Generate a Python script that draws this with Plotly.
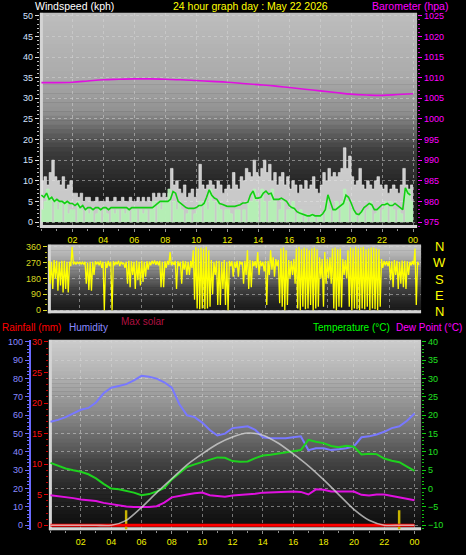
import numpy as np
import plotly.graph_objects as go

W, H = 466, 555

# ---------------- DATA ----------------
# wind, 10-minute samples over 24 h (kph)
wind_gust = [10, 11, 9, 12, 15, 11,
             10, 9, 11, 8, 9, 10,
             7, 7, 6, 7, 5, 6,
             6, 5, 5, 6, 5, 5,
             5, 6, 5, 5, 6, 5,
             5, 6, 5, 5, 6, 5,
             5, 6, 5, 6, 5, 6,
             5, 7, 6, 7, 6, 7,
             6, 7, 13, 9, 10, 8,
             7, 9, 6, 7, 8, 6,
             8, 14, 9, 8, 9, 10,
             9, 8, 10, 9, 7, 8,
             9, 8, 12, 9, 8, 11,
             10, 13, 12, 11, 15, 12,
             11, 13, 15, 12, 14, 10,
             12, 9, 11, 12, 9, 11,
             8, 10, 9, 7, 9, 8,
             10, 8, 9, 11, 8, 7,
             9, 12, 10, 13, 11, 12,
             11, 12, 13, 18, 13, 16,
             11, 9, 10, 13, 9, 8,
             10, 9, 8, 10, 11, 9,
             8, 9, 7, 8, 9, 8,
             7, 9, 13, 9, 7, 9]
wind_speed = [3, 5, 8, 6, 0, 5,
              3, 5, 0, 5, 2, 3,
              3, 0, 5, 3, 0, 3,
              2, 3, 0, 2, 3, 0,
              3, 2, 0, 3, 2, 3,
              0, 3, 2, 3, 0, 3,
              3, 0, 3, 2, 3, 0,
              3, 5, 0, 5, 3, 5,
              5, 8, 0, 5, 3, 5,
              3, 0, 2, 3, 0, 2,
              3, 5, 0, 5, 3, 8,
              5, 0, 5, 3, 0, 3,
              3, 2, 0, 3, 3, 0,
              3, 0, 5, 5, 8, 5,
              0, 8, 5, 0, 5, 8,
              5, 0, 3, 5, 0, 3,
              3, 5, 0, 2, 3, 0,
              2, 0, 2, 1.5, 0, 1.5,
              2, 0, 5, 3, 0, 3,
              5, 0, 5, 8, 5, 0,
              3, 2, 0, 2, 3, 0,
              3, 5, 0, 2, 3, 0,
              3, 5, 0, 5, 3, 0,
              3, 2, 0, 8, 8, 5]
wind_avg = [6.5, 6, 7, 5.5, 6, 5,
            5.5, 5, 5, 4.5, 5, 4.5,
            4.5, 4, 4.5, 3.5, 4, 3,
            3.5, 3.5, 3, 3.5, 3.5, 3,
            3.5, 3.5, 3, 3.5, 3.5, 3.5,
            3.5, 3.5, 3.5, 3.5, 3, 3.5,
            3.5, 3.5, 3.5, 3.5, 3.5, 3.5,
            3.5, 3.5, 4, 4.5, 5, 5,
            5, 5, 5.5, 7.4, 7, 5,
            4.5, 4, 3.5, 3.3, 3.3, 3.3,
            3.5, 4, 4, 4.5, 6, 7.8,
            6.5, 5.8, 5.5, 4.5, 4.3, 4,
            3.8, 3.8, 3.8, 3.8, 4, 4.2,
            4.6, 4.6, 4.8, 6.6, 7.5, 5.8,
            5.8, 6, 7, 7.5, 6.8, 7,
            5.5, 5.5, 5.5, 5.8, 5.5, 5,
            4, 3.5, 3.3, 2.5, 2.2, 2,
            1.8, 1.5, 1.5, 1.8, 1.5, 1.5,
            1.5, 2, 3, 6.6, 5, 3,
            3, 3.5, 4, 4.5, 6.5, 6,
            4.6, 3, 2, 1.8, 2.5, 3.5,
            4, 4.5, 4.2, 3, 3, 3.5,
            4.2, 4.2, 4.5, 4, 4, 4.5,
            4, 3.5, 3, 8.3, 7, 6.5]

# barometer, hourly (hPa)
baro_hours = list(range(25))
baro_hpa = [1008.8, 1008.8, 1008.9, 1009.2, 1009.5, 1009.6, 1009.7, 1009.7, 1009.6,
            1009.5, 1009.3, 1009.1, 1008.9, 1008.6, 1008.3, 1008.0, 1007.6, 1007.2,
            1006.8, 1006.4, 1006.0, 1005.8, 1005.7, 1005.9, 1006.1]

# wind direction, per 10 minutes: max and min seen (degrees)
dir_max = [280, 275, 285, 280, 275, 280,
           280, 275, 275, 360, 275, 275,
           275, 272, 275, 270, 275, 275,
           278, 275, 280, 275, 275, 280,
           275, 278, 275, 280, 275, 270,
           275, 280, 278, 275, 280, 275,
           280, 275, 278, 275, 280, 282,
           278, 280, 275, 278, 280, 330,
           275, 280, 278, 275, 280, 278,
           275, 280, 340, 360, 350, 355,
           350, 360, 340, 285, 275, 280,
           280, 275, 285, 275, 280, 278,
           275, 280, 278, 275, 280, 340,
           285, 280, 278, 330, 280, 275,
           280, 280, 340, 300, 290, 285,
           350, 355, 340, 285, 280, 290,
           350, 360, 345, 355, 350, 340,
           350, 355, 345, 300, 290, 330,
           290, 300, 350, 355, 345, 350,
           290, 285, 340, 355, 350, 360,
           350, 355, 360, 345, 350, 355,
           355, 350, 345, 290, 280, 278,
           280, 278, 285, 280, 275, 282,
           280, 278, 275, 280, 350, 275]
dir_min = [150, 120, 180, 110, 140, 100,
           120, 100, 250, 260, 260, 262,
           262, 260, 150, 115, 110, 200,
           260, 255, 240, 0, 240, 250,
           0, 255, 260, 250, 262, 240,
           150, 130, 200, 120, 170, 140,
           160, 190, 230, 255, 262, 258,
           255, 130, 130, 240, 258, 255,
           258, 120, 250, 150, 230, 200,
           200, 240, 60, 10, 5, 10,
           5, 10, 20, 90, 200, 30,
           30, 120, 30, 0, 250, 190,
           240, 190, 260, 150, 200, 120,
           130, 250, 240, 200, 250, 220,
           30, 200, 230, 190, 250, 40,
           20, 0, 30, 180, 200, 150,
           10, 0, 20, 5, 10, 30,
           0, 10, 20, 180, 20, 150,
           180, 150, 10, 0, 20, 15,
           200, 180, 20, 0, 10, 5,
           0, 10, 5, 20, 0, 10,
           5, 0, 20, 240, 255, 250,
           170, 130, 200, 120, 150, 130,
           120, 200, 255, 258, 30, 258]

# half-hourly temperature / humidity
hh_hours = [i * 0.5 for i in range(49)]
humidity = [56.5, 57.5, 59, 61, 63, 64, 67, 72, 75, 76, 77, 79, 81.5, 81, 80, 78, 75,
            66, 60, 59, 56, 52, 49, 50, 53, 53.5, 54, 52, 48, 47.5, 47.5, 47.5, 48,
            48.5, 41, 42, 42, 41, 41.5, 42, 43, 48, 48.5, 49.5, 51, 53, 54, 57, 61]
temperature = [7, 6.2, 5.5, 5, 4.6, 3.9, 2.8, 1.3, 0, -0.2, -0.6, -1.1, -1.8, -1.5,
               -0.8, 0.2, 2.5, 4.2, 5.9, 6.6, 7.3, 7.9, 8.5, 8.4, 7.5, 7.3, 7.4, 8.3,
               9.0, 9.2, 9.6, 9.8, 10.2, 10.5, 13.3, 12.8, 12.4, 11.6, 11.3, 11.7, 11.4,
               9.3, 9.5, 9.4, 8.2, 7.6, 7.2, 6.0, 4.8]
dew_point = [-1.8, -2.0, -2.2, -2.6, -3.0, -3.1, -3.4, -3.9, -4.3, -4.6, -4.9, -5.0,
             -5.1, -5.0, -4.8, -3.8, -2.4, -1.9, -1.6, -1.3, -1.1, -1.8, -2.0, -2.2,
             -1.9, -1.8, -1.6, -1.4, -1.1, -1.0, -0.9, -0.8, -0.8, -0.9, -1.6, -0.2,
             -0.3, -0.8, -0.9, -0.8, -0.8, -1.7, -1.9, -1.6, -1.6, -2.0, -2.4, -2.8, -3.2]

# max solar, hourly (W/m2)
solar_hours = list(range(25))
max_solar = [0, 0, 0, 0, 0, 47, 170, 312, 445, 577, 681, 775, 842, 880, 860, 785,
             681, 567, 435, 293, 151, 47, 0, 0, 0]

rain_hours = [0, 24]
rainfall = [0, 0]
sun_marks = [5.0, 23.0]

hour_ticks = list(range(2, 25, 2))
hour_labels = ["02", "04", "06", "08", "10", "12", "14", "16", "18", "20", "22", "00"]

# ---------------- FIGURE ----------------
FONT = "Liberation Sans, Arial, sans-serif"


def fx(p):
    return p / W


def fy(p):
    return 1 - p / H


fig = go.Figure()

t10 = [i / 6.0 for i in range(len(wind_gust))] + [24.0]


def ext(a):
    return list(a) + [a[-1]]


# --- top panel: wind + barometer
fig.add_trace(go.Scatter(x=t10, y=ext(wind_gust), mode="lines",
                         line=dict(shape="hv", width=0.6, color="rgba(245,245,245,0.9)"),
                         fill="tozeroy", fillcolor="rgba(232,232,232,0.85)",
                         xaxis="x", yaxis="y", hoverinfo="skip"))
fig.add_trace(go.Scatter(x=t10, y=ext(wind_speed), mode="lines",
                         line=dict(shape="hv", width=0.6, color="rgba(190,245,190,1)"),
                         fill="tozeroy", fillcolor="rgba(180,240,180,0.95)",
                         xaxis="x", yaxis="y", hoverinfo="skip"))
fig.add_trace(go.Scatter(x=t10[:-1], y=wind_avg, mode="lines",
                         line=dict(width=1.6, color="#12d012"),
                         xaxis="x", yaxis="y", hoverinfo="skip"))
fig.add_trace(go.Scatter(x=baro_hours, y=baro_hpa, mode="lines",
                         line=dict(width=1.6, color="#e010e0", shape="spline"),
                         xaxis="x", yaxis="y2", hoverinfo="skip"))

# --- wind direction panel (zig-zag between max and min per interval)
dx, dy = [], []
for i in range(len(dir_max)):
    t = i / 6.0
    dx += [t, t + 1 / 12.0]
    dy += [dir_max[i], dir_min[i]]
fig.add_trace(go.Scatter(x=dx, y=dy, mode="lines", line=dict(width=1.3, color="#ffff00"),
                         xaxis="x2", yaxis="y3", hoverinfo="skip"))

# --- bottom panel
fig.add_trace(go.Scatter(x=rain_hours, y=rainfall, mode="lines",
                         line=dict(width=3, color="#ff0000"),
                         xaxis="x3", yaxis="y5", hoverinfo="skip"))
fig.add_trace(go.Bar(x=sun_marks, y=[3.1] * len(sun_marks), base=-0.65, width=0.13,
                     marker=dict(color="#c8b400", line=dict(width=0)),
                     xaxis="x3", yaxis="y5", hoverinfo="skip"))
fig.add_trace(go.Scatter(x=solar_hours, y=max_solar, mode="lines",
                         line=dict(width=1.6, color="rgba(215,215,215,0.75)", shape="spline",
                                   smoothing=0.7),
                         xaxis="x3", yaxis="y7", hoverinfo="skip"))
fig.add_trace(go.Scatter(x=hh_hours, y=humidity, mode="lines",
                         line=dict(width=2, color="#7878ff"),
                         xaxis="x3", yaxis="y4", hoverinfo="skip"))
fig.add_trace(go.Scatter(x=hh_hours, y=temperature, mode="lines",
                         line=dict(width=2, color="#1ed21e"),
                         xaxis="x3", yaxis="y6", hoverinfo="skip"))
fig.add_trace(go.Scatter(x=hh_hours, y=dew_point, mode="lines",
                         line=dict(width=2, color="#e010e0"),
                         xaxis="x3", yaxis="y6", hoverinfo="skip"))

# ---------------- backgrounds (gradient strips) ----------------
shapes = []


def gradient(x0, x1, ytop, ybot, stops_pos, stops_val, n=48):
    edges = np.linspace(ytop, ybot, n + 1)
    for k in range(n):
        mid = (k + 0.5) / n
        g = int(round(np.interp(mid, stops_pos, stops_val)))
        shapes.append(dict(type="rect", xref="paper", yref="paper",
                           x0=fx(x0), x1=fx(x1), y0=fy(edges[k + 1]) - 0.0005,
                           y1=fy(edges[k]) + 0.0005,
                           fillcolor=f"rgb({g},{g},{g})", line=dict(width=0),
                           layer="below"))


gradient(40, 418, 10, 227, [0, 0.07, 0.3, 0.46, 0.55, 0.645, 0.83, 1.0],
         [190, 185, 170, 145, 100, 60, 32, 22])
gradient(48, 422, 244, 313, [0, 0.2, 0.4, 0.65, 0.85, 1.0], [200, 170, 125, 65, 35, 25])
gradient(49, 422, 340, 532, [0, 0.2, 0.42, 0.58, 0.63, 0.78, 0.93, 1.0],
         [205, 175, 130, 88, 70, 40, 20, 14])

# bevel edges
for (x0, x1, yt, yb) in [(40, 418, 10, 227), (48, 422, 244, 313), (49, 422, 340, 532)]:
    shapes.append(dict(type="rect", xref="paper", yref="paper", x0=fx(x0), x1=fx(x0 + 3),
                       y0=fy(yb), y1=fy(yt), fillcolor="#d4d4d4", line=dict(width=0),
                       layer="below"))
    shapes.append(dict(type="rect", xref="paper", yref="paper", x0=fx(x0), x1=fx(x1),
                       y0=fy(yb), y1=fy(yb - 3), fillcolor="#d4d4d4", line=dict(width=0),
                       layer="below"))

GRID = "rgba(215,215,215,0.5)"

xcommon = dict(tickvals=hour_ticks, ticktext=hour_labels, showgrid=True, gridcolor=GRID,
               griddash="dot", gridwidth=1, zeroline=False, showline=False,
               ticks="outside", ticklen=3, tickcolor="#909090",
               tickfont=dict(family=FONT, size=9, color="#f0f000"),
               minor=dict(dtick=1, ticks="outside", ticklen=2, tickcolor="#909090",
                          showgrid=False))

layout = dict(
    width=W, height=H, paper_bgcolor="#000000", plot_bgcolor="rgba(0,0,0,0)",
    margin=dict(l=0, r=0, t=0, b=0), showlegend=False, barmode="overlay",
    font=dict(family=FONT, color="#ffffff"),
    xaxis=dict(domain=[fx(40), fx(418)], range=[-0.097, 24.26], anchor="y", **xcommon),
    yaxis=dict(domain=[fy(227), fy(10)], range=[-1.44, 50.7], dtick=5, tick0=0,
               showgrid=True, gridcolor=GRID, griddash="dot", zeroline=False,
               ticks="outside", ticklen=4, tickcolor="#e0e0e0",
               tickfont=dict(family=FONT, size=9, color="#d4e2ff"),
               minor=dict(dtick=1, ticks="outside", ticklen=2, tickcolor="#c0c0c0"),
               anchor="x"),
    yaxis2=dict(overlaying="y", side="right", anchor="x", range=[973.56, 1025.7],
                dtick=5, tick0=975, showgrid=False, zeroline=False,
                ticks="outside", ticklen=4, tickcolor="#ff00ff",
                tickfont=dict(family=FONT, size=9, color="#ff00ff"),
                minor=dict(dtick=1, ticks="outside", ticklen=2, tickcolor="#c000c0")),
    xaxis2=dict(domain=[fx(48), fx(422)], range=[-0.065, 24.06], anchor="y3",
                tickvals=hour_ticks, showticklabels=False, showgrid=True, gridcolor=GRID,
                griddash="dot", zeroline=False, ticks=""),
    yaxis3=dict(domain=[fy(313), fy(244)], range=[-17, 371], tickvals=[0, 90, 180, 270, 360],
                showgrid=True, gridcolor=GRID, griddash="dot", zeroline=False,
                ticks="outside", ticklen=4, tickcolor="#d8d820",
                tickfont=dict(family=FONT, size=9, color="#d8d820"),
                minor=dict(dtick=30, ticks="outside", ticklen=2, tickcolor="#b0b010"),
                anchor="x2"),
    xaxis3=dict(domain=[fx(49), fx(422)], range=[-0.105, 24.43], anchor="y5", **xcommon),
    yaxis4=dict(domain=[fy(532), fy(340)], range=[-2.7, 101.1], dtick=10, tick0=0,
                anchor="free", position=fx(30), side="left",
                showline=True, linecolor="#6a6aff", linewidth=2,
                showgrid=True, gridcolor=GRID, griddash="dot", zeroline=False,
                ticks="outside", ticklen=4, tickcolor="#6a6aff",
                tickfont=dict(family=FONT, size=9, color="#8a8aff"),
                minor=dict(dtick=2, ticks="outside", ticklen=2, tickcolor="#6a6aff")),
    yaxis5=dict(overlaying="y4", anchor="x3", side="left", range=[-0.81, 30.33], dtick=5,
                tick0=0, showgrid=False, zeroline=False, showline=False,
                ticks="outside", ticklen=4, tickcolor="#e00000",
                tickfont=dict(family=FONT, size=9, color="#ff1010"),
                minor=dict(dtick=1, ticks="outside", ticklen=2, tickcolor="#c00000")),
    yaxis6=dict(overlaying="y4", anchor="x3", side="right", range=[-11.35, 40.54], dtick=5,
                tick0=0, showgrid=False, zeroline=False,
                ticks="outside", ticklen=4, tickcolor="#10d010",
                tickfont=dict(family=FONT, size=9, color="#20e020"),
                minor=dict(dtick=1, ticks="outside", ticklen=2, tickcolor="#10c010")),
    yaxis7=dict(overlaying="y4", anchor="x3", side="right", range=[-47.3, 1768.9],
                visible=False),
    shapes=shapes,
)
fig.update_layout(**layout)


def label(text, x, y, color, size=10, anchor="left"):
    fig.add_annotation(text=text, x=fx(x), y=fy(y), xref="paper", yref="paper",
                       xanchor=anchor, yanchor="middle", showarrow=False,
                       font=dict(family=FONT, size=size, color=color))


label("Windspeed (kph)", 33, 3.5, "#ffffff", size=10.5)
label("24 hour graph day : May 22 2026", 171, 3.5, "#ffff00", size=10.5)
label("Barometer (hpa)", 371, 3.5, "#ff00ff", size=10.5)
for txt, yy in zip(["N", "W", "S", "E", "N"], [246, 262, 279, 295, 311]):
    label(txt, 440, yy, "#ffff00", size=13, anchor="center")
label("Rainfall (mm)", 0, 327, "#ff0000")
label("Humidity", 67, 327, "#8a8aff")
label("Max solar", 119, 321, "#b01040")
label("Temperature (°C)", 312, 327, "#00ff00")
label("Dew Point (°C)", 395, 327, "#ff00ff")

fig.write_html("out.html", config={"displayModeBar": False},
               post_script="document.body.style.margin='0px';document.body.style.padding='0px';")
